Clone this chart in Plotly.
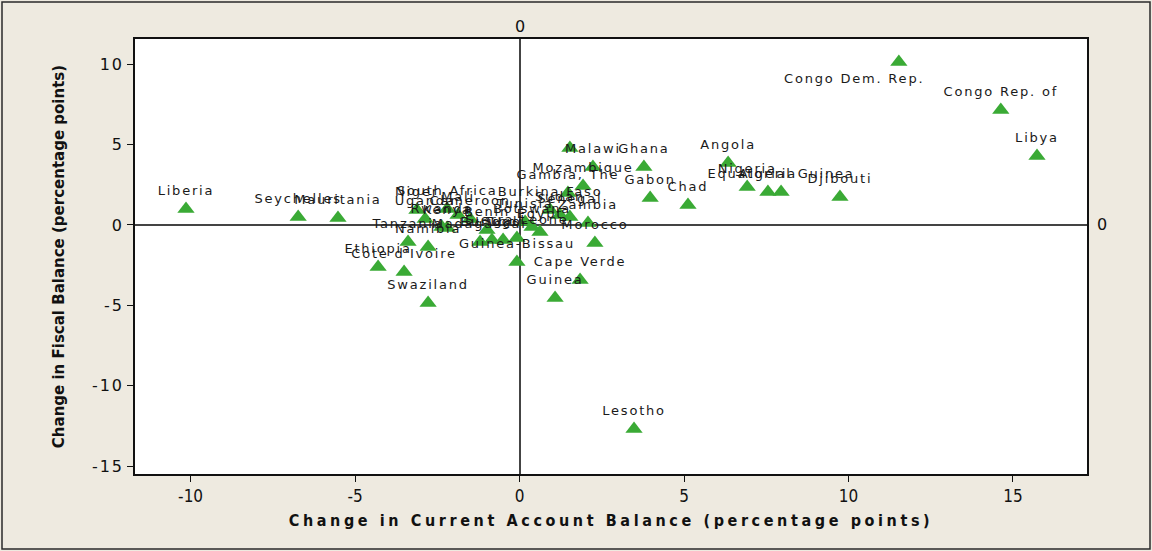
import plotly.graph_objects as go

# ---- data ----
countries = [
    "Liberia", "Seychelles", "Mauritania", "Niger", "Uganda", "South Africa", "Kenya",
    "Tanzania", "Namibia", "Ethiopia", "Cote d'Ivoire", "Swaziland", "Guinea-Bissau",
    "Cape Verde", "Guinea", "Morocco", "Lesotho", "Congo Rep. of", "Libya",
    "Djibouti", "Equatorial Guinea", "Algeria", "Nigeria", "Angola", "Chad", "Gabon",
    "Ghana", "Malawi", "", "Mozambique", "Gambia, The", "Burkina Faso", "Zambia",
    "Senegal", "Egypt", "Madagascar", "Burundi", "Togo", "Benin", "Botswana",
    "Sierra Leone", "Rwanda", "Cameroon", "Mali", "Tunisia", "Sudan",
]
current_account = [
    -10.14, -6.73, -5.52, -3.12, -2.87, -2.20, -2.20,
    -3.39, -2.78, -4.30, -3.51, -2.78, -0.08,
    1.84, 1.08, 2.29, 3.48, 14.63, 15.73,
    9.74, 7.95, 7.55, 6.92, 6.34, 5.12, 3.97,
    3.78, 2.23, 1.53, 1.93, 1.47, 0.93, 2.08,
    1.53, 0.62, -1.20, -0.84, -0.50, -0.99, 0.38,
    -0.08, -2.36, -1.50, -1.87, 0.17, 1.23,
]
fiscal = [
    1.00, 0.50, 0.44, 0.93, 0.37, 1.00, -0.19,
    -1.06, -1.37, -2.61, -2.92, -4.85, -2.30,
    -3.42, -4.54, -1.12, -12.69, 7.15, 4.29,
    1.74, 2.05, 2.05, 2.36, 3.86, 1.24, 1.68,
    3.61, 3.61, 4.79, 2.43, 1.99, 0.93, 0.12,
    0.50, -0.44, -1.06, -0.93, -0.93, -0.31, -0.12,
    -0.81, -0.12, 0.37, 0.62, 0.19, 0.62,
]
# point whose label sits below-left of its marker
special_name = "Congo Dem. Rep."
special_x = 11.53
special_y = 10.14

x_ticks = [-10, -5, 0, 5, 10, 15]
y_ticks = [10, 5, 0, -5, -10, -15]

x_title = "Change in Current Account Balance (percentage points)"
y_title = "Change in Fiscal Balance (percentage points)"

# ---- figure ----
GREEN = "rgb(58,170,53)"
LABEL_FONT = dict(family="DejaVu Sans, Verdana, sans-serif", size=13, color="#1a1a1a")


def spaced(t, sp=1.8):
    if not t:
        return ""
    return '<span style="letter-spacing:%spx">%s</span>' % (sp, t)


all_x = current_account + [special_x]
all_y = fiscal + [special_y]
all_text = [spaced(c) for c in countries] + [""]

fig = go.Figure()
fig.add_trace(go.Scatter(
    x=all_x, y=all_y, mode="markers+text",
    text=all_text, textposition="top center",
    textfont=LABEL_FONT,
    marker=dict(symbol="triangle-up", size=15, color=GREEN, line=dict(width=0)),
    hoverinfo="skip", showlegend=False, cliponaxis=False,
))

fig.add_annotation(
    x=special_x, y=special_y, xref="x", yref="y",
    text=spaced(special_name), showarrow=False,
    font=LABEL_FONT, xanchor="center", yanchor="middle",
    xshift=-45, yshift=-17,
)

# labels of the zero reference lines
fig.add_annotation(x=0, y=1, xref="x", yref="paper", text="0", showarrow=False,
                   xanchor="center", yanchor="bottom", yshift=1,
                   font=dict(family="DejaVu Sans", size=16, color="#111"))
fig.add_annotation(x=1, y=0, xref="paper", yref="y", text="0", showarrow=False,
                   xanchor="left", yanchor="middle", xshift=8,
                   font=dict(family="DejaVu Sans", size=16, color="#111"))

# outer frame of the whole graph
W, H = 1152, 551
L, R, T, B = 135, 65, 39, 77
pw, ph = W - L - R, H - T - B
fig.add_shape(type="rect", xref="paper", yref="paper",
              x0=(2 - L) / pw, x1=(W - 2 - L) / pw,
              y0=-(B - 2) / ph, y1=(ph + T - 2) / ph,
              line=dict(color="#2a2a2a", width=1.5), fillcolor="rgba(0,0,0,0)", layer="below")

fig.update_layout(
    width=W, height=H,
    margin=dict(l=L, r=R, t=T, b=B, pad=0),
    paper_bgcolor="#EEEAE0",
    plot_bgcolor="white",
    font=dict(family="DejaVu Sans, Verdana, sans-serif", color="#111"),
    xaxis=dict(
        range=[-11.69, 17.25], tickvals=x_ticks,
        ticktext=[str(v) for v in x_ticks],
        showgrid=False, zeroline=True, zerolinecolor="#444", zerolinewidth=1.5,
        showline=True, mirror=True, linecolor="#111", linewidth=1.5,
        ticks="outside", ticklen=6, tickcolor="#111", tickwidth=1,
        tickfont=dict(family="DejaVu Sans Condensed, DejaVu Sans", size=17, color="#111"),
        title=dict(text="<b>" + spaced(x_title, 3.6) + "</b>",
                   font=dict(family="DejaVu Sans Condensed, DejaVu Sans", size=16, color="#111"),
                   standoff=10),
    ),
    yaxis=dict(
        range=[-15.49, 11.57], tickvals=y_ticks,
        ticktext=[spaced(str(v), 2) for v in y_ticks],
        showgrid=False, zeroline=True, zerolinecolor="#444", zerolinewidth=1.5,
        showline=True, mirror=True, linecolor="#111", linewidth=1.5,
        ticks="outside", ticklen=6, tickcolor="#111", tickwidth=1,
        tickfont=dict(family="DejaVu Sans", size=16, color="#111"),
        title=dict(text="<b>" + y_title + "</b>",
                   font=dict(family="DejaVu Sans", size=15, color="#111"),
                   standoff=24),
    ),
)

fig.write_html("out.html", config={"displayModeBar": False},
               post_script="document.body.style.margin='0px';")
